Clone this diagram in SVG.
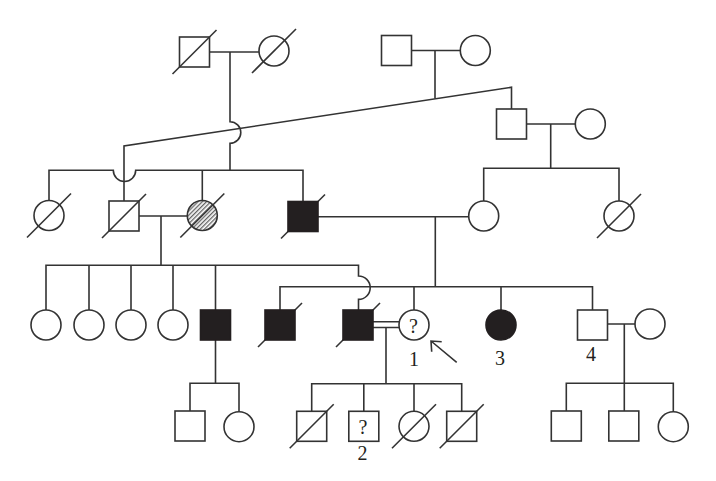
<svg xmlns="http://www.w3.org/2000/svg" width="716" height="481" viewBox="0 0 716 481">
<style>
  .s{fill:#fff;stroke:#333;stroke-width:1.6}
  .b{fill:#231f20;stroke:#231f20;stroke-width:1.6}
  .h{fill:url(#hatch);stroke:#333;stroke-width:1.6}
  .sl{stroke:#333;stroke-width:1.6;fill:none}
  .c{stroke:#333;stroke-width:1.6;fill:none}
  .t{font-family:"Liberation Serif","Times New Roman",serif;font-size:20px;fill:#231f20;text-anchor:middle}
  .q{font-family:"Liberation Serif","Times New Roman",serif;font-size:20px;fill:#231f20;text-anchor:middle}
</style>
<defs>
  <pattern id="hatch" patternUnits="userSpaceOnUse" width="3" height="3" patternTransform="rotate(45)">
    <rect width="3" height="3" fill="#fff"/>
    <line x1="0.75" y1="0" x2="0.75" y2="3" stroke="#333" stroke-width="1"/>
  </pattern>
</defs>
<rect width="716" height="481" fill="#fff"/>

<g id="connectors">
  <path class="c" d="M209.5,52 H259"/>
  <path class="c" d="M230,52 V121.7 A10.8,10.8 0 0 1 230,143.3 V170.3"/>
  <path class="c" d="M49,200.5 V170.3 H113.3 A11.2,11.2 0 0 0 135.7,170.3 H303 V201.5"/>
  <path class="c" d="M202.3,170.3 V200.5"/>
  <path class="c" d="M124,201 V146 L511.5,87.3 V109"/>
  <path class="c" d="M411.5,50.5 H460.3 M435,50.5 V98.6"/>
  <path class="c" d="M526.5,124 H575.3 M550.7,124 V168.3"/>
  <path class="c" d="M483.7,201 V168.3 H619 V201"/>
  <path class="c" d="M139,216 H187.3 M161,216 V265.3"/>
  <path class="c" d="M46,310 V265.3 H358.5 V276 A11.7,11.7 0 0 1 358.5,299.4 V310"/>
  <path class="c" d="M89,265.3 V310 M131,265.3 V310 M173,265.3 V310 M215.5,265.3 V310"/>
  <path class="c" d="M318,216.7 H468.7 M435.3,216.7 V286.7"/>
  <path class="c" d="M280,310 V286.7 H592.5 V310 M414,286.7 V310 M501,286.7 V310"/>
  <path class="c" d="M373,321.7 H399 M373,327.5 H399"/>
  <path class="c" d="M386,327.5 V383.8"/>
  <path class="c" d="M311.7,411 V383.8 H461.7 V411 M363.8,383.8 V411 M414,383.8 V411.3"/>
  <path class="c" d="M215.5,340 V383.3 M190,411 V383.3 H239 V411.7"/>
  <path class="c" d="M607.5,324 H635 M624.3,324 V411 M566.3,411 V383.3 H673.3 V411.7"/>
  <path class="c" d="M456.7,362.3 L431,341 M441.7,341.7 L431,341 L431.7,351.7"/>
</g>

<g id="I-1"><rect class="s" x="179.5" y="37" width="30" height="30"/><line class="sl" x1="172.5" y1="74" x2="216.5" y2="30"/></g>
<g id="I-2"><circle class="s" cx="274" cy="51" r="15"/><line class="sl" x1="252" y1="73" x2="296" y2="29"/></g>
<g id="I-3"><rect class="s" x="381.5" y="35.5" width="30" height="30"/></g>
<g id="I-4"><circle class="s" cx="475.3" cy="50.5" r="15"/></g>

<g id="II-r1"><rect class="s" x="496.5" y="109" width="30" height="30"/></g>
<g id="II-r2"><circle class="s" cx="590.3" cy="124" r="15"/></g>

<g id="II-1"><circle class="s" cx="49" cy="215.5" r="15"/><line class="sl" x1="27" y1="237.5" x2="71" y2="193.5"/></g>
<g id="II-2"><rect class="s" x="109" y="201" width="30" height="30"/><line class="sl" x1="102" y1="238" x2="146" y2="194"/></g>
<g id="II-3"><circle class="h" cx="202.3" cy="215.5" r="15"/><line class="sl" x1="180.3" y1="237.5" x2="224.3" y2="193.5"/></g>
<g id="II-4"><line class="sl" x1="281" y1="238.5" x2="325" y2="194.5"/><rect class="b" x="288" y="201.5" width="30" height="30"/></g>
<g id="II-5"><circle class="s" cx="483.7" cy="216" r="15"/></g>
<g id="II-6"><circle class="s" cx="619" cy="216" r="15"/><line class="sl" x1="597" y1="238" x2="641" y2="194"/></g>

<g id="III-1"><circle class="s" cx="46" cy="325" r="15"/></g>
<g id="III-2"><circle class="s" cx="89" cy="325" r="15"/></g>
<g id="III-3"><circle class="s" cx="131" cy="325" r="15"/></g>
<g id="III-4"><circle class="s" cx="173" cy="325" r="15"/></g>
<g id="III-5"><rect class="b" x="200.5" y="310" width="30" height="30"/></g>
<g id="III-6"><line class="sl" x1="258" y1="347" x2="302" y2="303"/><rect class="b" x="265" y="310" width="30" height="30"/></g>
<g id="III-7"><line class="sl" x1="336" y1="347" x2="380" y2="303"/><rect class="b" x="343" y="310" width="30" height="30"/></g>
<g id="III-8"><circle class="s" cx="414" cy="325" r="15"/><text class="q" x="413.5" y="333">?</text><text class="t" x="414" y="366">1</text></g>
<g id="III-9"><circle class="b" cx="501" cy="325" r="15"/><text class="t" x="500" y="364.5">3</text></g>
<g id="III-11"><rect class="s" x="577.5" y="310" width="30" height="30"/><text class="t" x="591" y="361">4</text></g>
<g id="III-12"><circle class="s" cx="650" cy="324" r="15"/></g>

<g id="IV-1"><rect class="s" x="175" y="411" width="30" height="30"/></g>
<g id="IV-2"><circle class="s" cx="239" cy="426.7" r="15"/></g>
<g id="IV-3"><rect class="s" x="296.7" y="411.3" width="30" height="30"/><line class="sl" x1="289.7" y1="448.3" x2="333.7" y2="404.3"/></g>
<g id="IV-4"><rect class="s" x="348.8" y="411.3" width="30" height="30"/><text class="q" x="363" y="434">?</text><text class="t" x="362.5" y="460">2</text></g>
<g id="IV-5"><circle class="s" cx="414" cy="426.3" r="15"/><line class="sl" x1="392" y1="448.3" x2="436" y2="404.3"/></g>
<g id="IV-6"><rect class="s" x="446.7" y="411.3" width="30" height="30"/><line class="sl" x1="439.7" y1="448.3" x2="483.7" y2="404.3"/></g>
<g id="IV-7"><rect class="s" x="551.3" y="411" width="30" height="30"/></g>
<g id="IV-8"><rect class="s" x="608.8" y="411" width="30" height="30"/></g>
<g id="IV-9"><circle class="s" cx="673.3" cy="426.7" r="15"/></g>
</svg>
